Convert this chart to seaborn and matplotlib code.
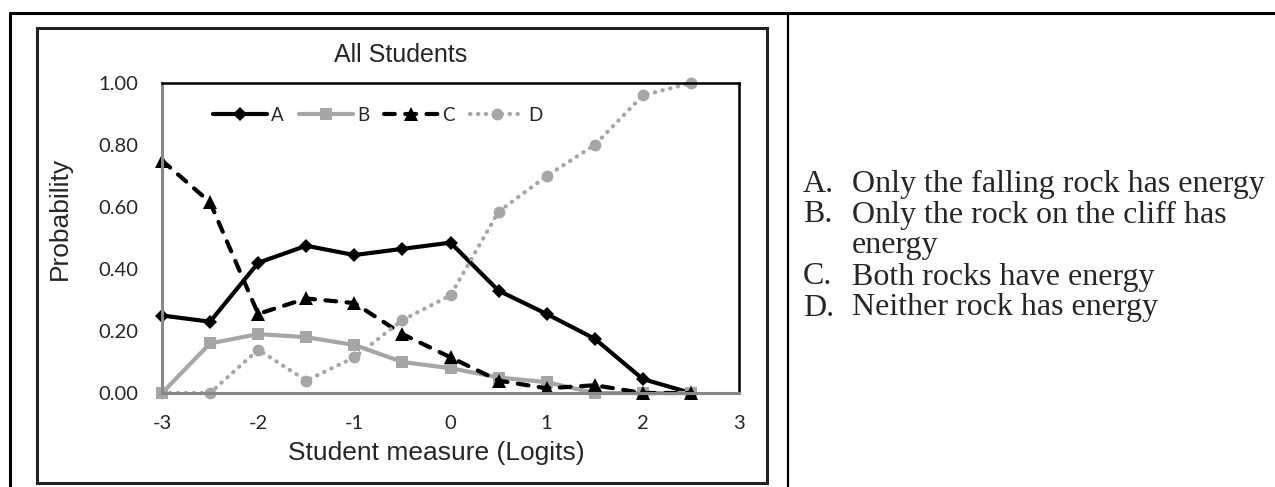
import numpy as np
import pandas as pd
import matplotlib
matplotlib.use("Agg")
import matplotlib.pyplot as plt
import seaborn as sns
from matplotlib.lines import Line2D
from matplotlib.patches import Rectangle

# Data
logits = [-3, -2.5, -2, -1.5, -1, -0.5, 0, 0.5, 1, 1.5, 2, 2.5]
prob_a = [0.25, 0.23, 0.42, 0.475, 0.445, 0.465, 0.485, 0.33, 0.255, 0.175, 0.045, 0.0]
prob_b = [0.0, 0.16, 0.19, 0.18, 0.155, 0.10, 0.08, 0.05, 0.035, 0.0, 0.0, 0.0]
prob_c = [0.75, 0.615, 0.255, 0.305, 0.29, 0.19, 0.115, 0.04, 0.015, 0.025, 0.0, 0.0]
prob_d = [0.0, 0.0, 0.14, 0.04, 0.115, 0.235, 0.315, 0.585, 0.70, 0.80, 0.96, 1.0]
series = ["A", "B", "C", "D"]
answer_keys = ["A.", "B.", "", "C.", "D."]
answer_text = ["Only the falling rock has energy",
               "Only the rock on the cliff has",
               "energy",
               "Both rocks have energy",
               "Neither rock has energy"]

df = pd.DataFrame({
    "x": logits * 4,
    "p": prob_a + prob_b + prob_c + prob_d,
    "series": np.repeat(series, len(logits)),
})

sns.set_style("white")
plt.rcParams["font.family"] = ["Lato", "DejaVu Sans"]
plt.rcParams["lines.dash_capstyle"] = "round"

W, H = 1275, 487
fig = plt.figure(figsize=(W / 100, H / 100), dpi=100)

# Table / frame lines
fig.add_artist(Line2D([10 / W, 1], [1 - 13 / H, 1 - 13 / H], color="black", lw=2.2))
fig.add_artist(Line2D([10 / W, 10 / W], [0, 1 - 13 / H], color="black", lw=2.2))
fig.add_artist(Line2D([788 / W, 788 / W], [0, 1 - 13 / H], color="black", lw=1.6))
fig.add_artist(Rectangle((37 / W, 1 - 483 / H), (767 - 37) / W, (483 - 28) / H,
                         fill=False, ec="#222222", lw=2.2))

ax = fig.add_axes([162 / W, 1 - 393 / H, (739 - 162) / W, (393 - 83) / H])

palette = {"A": "black", "B": "#a6a6a6", "C": "black", "D": "#a6a6a6"}
dashes = {"A": "", "B": "", "C": (2.6, 2.5), "D": (0.1, 1.8)}
markers = {"A": "D", "B": "s", "C": "^", "D": "o"}

sns.lineplot(data=df, x="x", y="p", hue="series", style="series",
             palette=palette, dashes=dashes, markers=markers,
             linewidth=3, markersize=8.5, markeredgewidth=0, ax=ax)

for line in ax.lines:
    line.set_clip_on(False)
    if line.get_marker() == "D":
        line.set_markersize(7.5)
    if line.get_marker() == "^":
        line.set_markersize(9.5)

ax.set_xlim(-3, 3)
ax.set_ylim(0, 1)
xt = np.arange(-3, 3.01, 0.5)
ax.set_xticks(xt)
ax.set_xticklabels([str(int(v)) if float(v).is_integer() else "" for v in xt])
ax.set_yticks(np.arange(0, 1.01, 0.2))
ax.set_yticks(np.arange(0, 1.01, 0.1), minor=True)
ax.set_yticklabels([f"{v:.2f}" for v in np.arange(0, 1.01, 0.2)])
ax.tick_params(axis="both", which="both", direction="out", length=5, width=1.6,
               color="#888888", labelsize=14.5)
ax.tick_params(axis="x", pad=11)
ax.tick_params(axis="y", pad=12)
ax.set_xlabel("")
ax.set_ylabel("")

for side in ["top", "right"]:
    ax.spines[side].set_color("black")
    ax.spines[side].set_linewidth(1.8)
for side in ["left", "bottom"]:
    ax.spines[side].set_color("#888888")
    ax.spines[side].set_linewidth(2.2)

handles, labels = ax.get_legend_handles_labels()
keep = [(h, l) for h, l in zip(handles, labels) if l in series]
ax.legend([h for h, _ in keep], [l for _, l in keep], ncol=4, frameon=False,
          loc="center left", bbox_to_anchor=(0.075, 0.895), handlelength=2.9,
          handletextpad=0.2, columnspacing=0.8, fontsize=13.5, borderaxespad=0)

fig.text(401 / W, 1 - 55 / H, "All Students", ha="center", va="center",
         fontsize=18, family=["Liberation Sans"])
fig.text(436 / W, 1 - 453 / H, "Student measure (Logits)", ha="center", va="center",
         fontsize=19, family=["Liberation Sans"])
fig.text(60 / W, 1 - 218 / H, "Probability", ha="center", va="center",
         rotation=90, fontsize=19, family=["Liberation Sans"])

y_pos = [184, 215, 246, 277, 308]
for key, txt, yy in zip(answer_keys, answer_text, y_pos):
    if key:
        fig.text(803 / W, 1 - yy / H, key, ha="left", va="center", fontsize=23,
                 family=["Liberation Serif"])
    fig.text(852 / W, 1 - yy / H, txt, ha="left", va="center", fontsize=23,
             family=["Liberation Serif"])

fig.savefig("out.png", dpi=100)
